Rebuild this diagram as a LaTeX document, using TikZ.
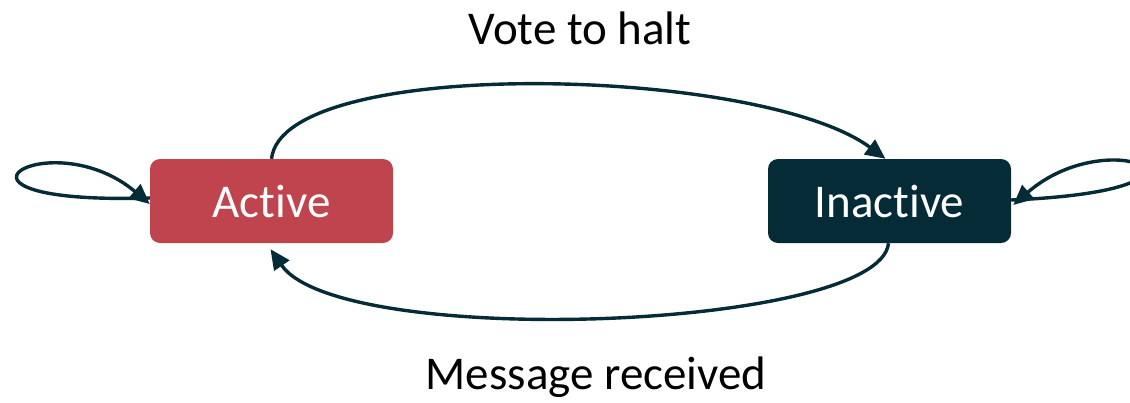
\documentclass[tikz,border=0pt]{standalone}
\usepackage{fontspec}
\setmainfont[Ligatures=NoCommon]{Carlito}
\usetikzlibrary{arrows.meta}
\definecolor{activered}{HTML}{C0444D}
\definecolor{inkteal}{HTML}{042B36}
\tikzset{
  state/.style={rounded corners=10pt, minimum width=243pt, minimum height=84pt,
    inner sep=0pt, text=white, font=\fontsize{47}{56}\selectfont},
  label/.style={inner sep=0pt, font=\fontsize{47}{56}\selectfont, text=black},
  trans/.style={draw=inkteal, line width=3.4pt,
    -{Triangle[length=20pt,width=18pt]}},
}
\begin{document}
\begin{tikzpicture}[x=1pt,y=-1pt]
  \useasboundingbox (0,0) rectangle (1130,402);
  \clip (0,0) rectangle (1130,402);
  \node[state, fill=activered] (active) at (271.5,201) {Active};
  \node[state, fill=inkteal] (inactive) at (889.5,201) {Inactive};
  \node[label] (halt) at (580,28) {Vote to halt};
  \node[label] (msg) at (596,377) {Message received};

  % transitions between the two states
  \draw[trans] (active.north) .. controls (283,55) and (760,66) .. ([xshift=-4pt]inactive.north);
  \draw[trans] ([xshift=-1pt]inactive.south) .. controls (880,330) and (340,350) .. ([xshift=-1pt,yshift=-6pt]active.south);

  % self loops
  \draw[trans] ([yshift=3pt]active.west) .. controls (-90,205) and (50,120) .. ([yshift=-3pt]active.west);
  \draw[trans] ([yshift=1pt]inactive.east) .. controls (1250,190) and (1111,120) .. ([xshift=2pt,yshift=-4pt]inactive.east);
\end{tikzpicture}
\end{document}
